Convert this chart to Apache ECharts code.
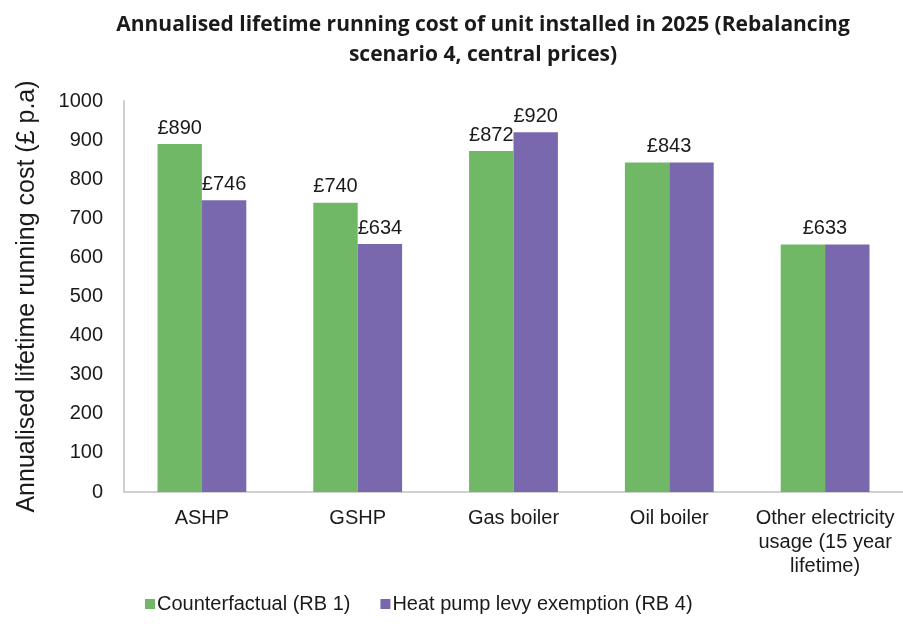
<!DOCTYPE html>
<html>
<head>
<meta charset="utf-8">
<script src="https://cdn.jsdelivr.net/npm/echarts@6/dist/echarts.min.js"></script>
<style>
  html, body { margin: 0; padding: 0; background: #fff; }
  #chart { width: 903px; height: 624px; }
</style>
</head>
<body>
<div id="chart"></div>
<script>
// 类目与数值
const categories = ["ASHP", "GSHP", "Gas boiler", "Oil boiler", "Other electricity\nusage (15 year\nlifetime)"];
const counterfactual = [890, 740, 872, 843, 633];
const levyExemption = [746, 634, 920, 843, 633];
const yTicks = [0, 100, 200, 300, 400, 500, 600, 700, 800, 900, 1000];

const GREEN = "#70B866";
const PURPLE = "#7A68AE";
const FONT = "Liberation Sans, Arial, sans-serif";

// 两个值相等时只显示一个标签，放在两根柱子中间
const labelFmt = (p) => "£" + p.value;
const greenData = counterfactual.map((v, i) => {
  if (v === levyExemption[i]) {
    return { value: v, label: { offset: [22, 0] } };
  }
  return v;
});
const purpleData = levyExemption.map((v, i) => {
  if (v === counterfactual[i]) {
    return { value: v, label: { show: false } };
  }
  return v;
});

const barLabel = {
  show: true,
  position: "top",
  distance: 6,
  formatter: labelFmt,
  fontFamily: FONT,
  fontSize: 20,
  color: "#1a1a1a"
};

const chart = echarts.init(document.getElementById("chart"));
chart.setOption({
  animation: false,
  title: {
    text: "Annualised lifetime running cost of unit installed in 2025 (Rebalancing\nscenario 4, central prices)",
    left: 478,
    textAlign: "center",
    top: 5,
    textStyle: {
      fontFamily: "Open Sans, sans-serif",
      fontWeight: "bold",
      fontSize: 21,
      lineHeight: 30,
      color: "#1a1a1a"
    }
  },
  legend: {
    bottom: 5,
    left: 140,
    itemWidth: 10,
    itemHeight: 10,
    itemGap: 30,
    icon: "rect",
    textStyle: { fontFamily: FONT, fontSize: 20, color: "#1a1a1a", padding: [0, 0, 0, -3] },
    data: ["Counterfactual (RB 1)", "Heat pump levy exemption (RB 4)"]
  },
  grid: { left: 124, right: 0, top: 101, bottom: 132, containLabel: false },
  xAxis: {
    type: "category",
    data: categories,
    axisLine: { lineStyle: { color: "#d0d0d0", width: 2 } },
    axisTick: { show: false },
    axisLabel: {
      fontFamily: FONT,
      fontSize: 20,
      color: "#1a1a1a",
      margin: 14,
      lineHeight: 24,
      interval: 0
    }
  },
  yAxis: {
    type: "value",
    min: 0,
    max: 1000,
    interval: 100,
    name: "Annualised lifetime running cost (£ p.a)",
    nameLocation: "middle",
    nameGap: 84,
    nameTextStyle: { fontFamily: FONT, fontSize: 25, color: "#1a1a1a" },
    axisLine: { show: true, lineStyle: { color: "#d0d0d0", width: 2 } },
    axisTick: { show: false },
    splitLine: { show: false },
    axisLabel: {
      fontFamily: FONT,
      fontSize: 20,
      color: "#1a1a1a",
      margin: 21,
      formatter: (v) => (yTicks.includes(v) ? String(v) : "")
    }
  },
  series: [
    {
      name: "Counterfactual (RB 1)",
      type: "bar",
      data: greenData,
      itemStyle: { color: GREEN },
      barGap: "0%",
      barCategoryGap: "43%",
      label: barLabel
    },
    {
      name: "Heat pump levy exemption (RB 4)",
      type: "bar",
      data: purpleData,
      itemStyle: { color: PURPLE },
      barGap: "0%",
      barCategoryGap: "43%",
      label: barLabel
    }
  ]
});
</script>
</body>
</html>
